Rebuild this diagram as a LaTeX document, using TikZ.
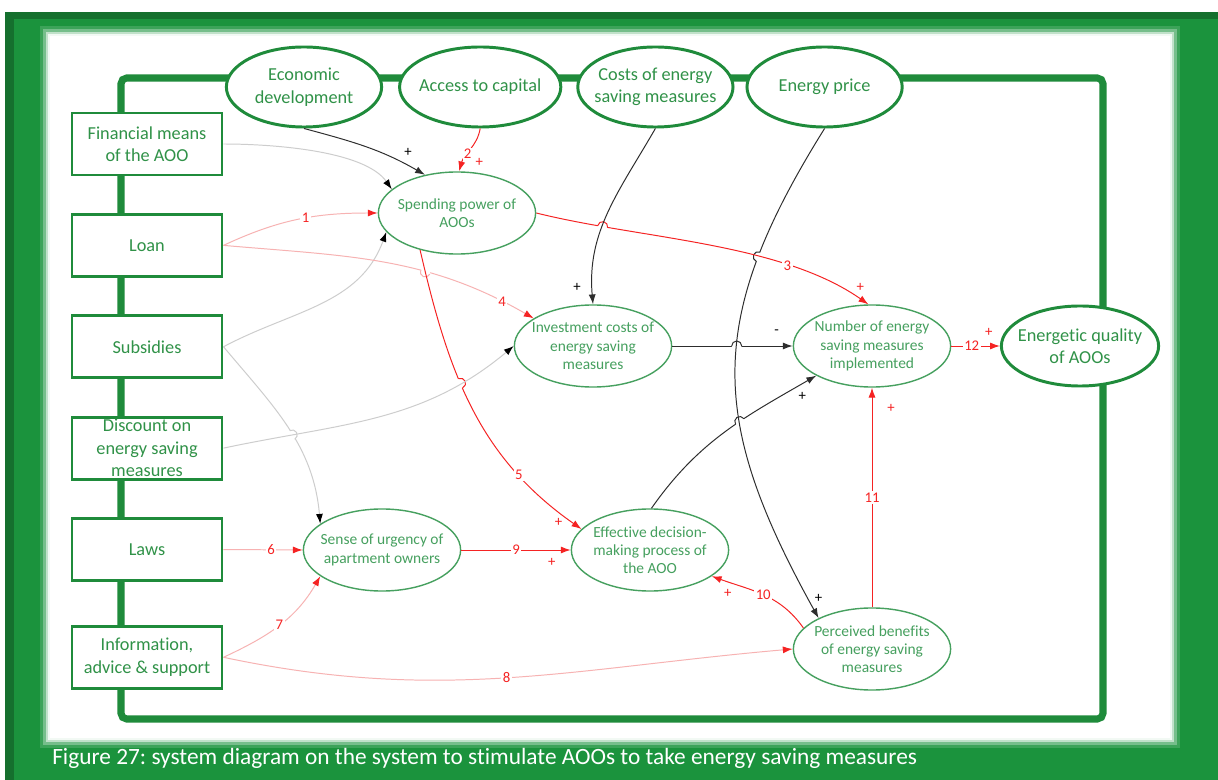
\documentclass[tikz,border=0pt]{standalone}
\usepackage{fontspec}
\setmainfont{Carlito}[Ligatures=NoCommon]
\usetikzlibrary{shapes.geometric,arrows.meta,positioning,calc,intersections}
\definecolor{framegreen}{RGB}{27,147,61}
\definecolor{framedark}{RGB}{21,112,46}
\definecolor{borderline}{RGB}{31,139,59}
\definecolor{boxtext}{RGB}{48,146,72}
\definecolor{vartext}{RGB}{70,160,95}
\definecolor{linkred}{RGB}{245,35,35}
\definecolor{linkpink}{RGB}{247,178,178}
\definecolor{linkgrey}{RGB}{205,205,205}
\definecolor{linkdark}{RGB}{45,45,45}
\pgfdeclarelayer{over1}
\pgfdeclarelayer{over2}
\pgfdeclarelayer{over3}
\pgfsetlayers{main,over1,over2,over3}
\newcommand{\hop}[4]{%
  \fill[white] (#1) circle (5);
  \draw[#4, line width=0.7pt, rotate around={#2:(#1)}] ($(#1)+(-5,0)$) arc (180:#3:5);}
\frenchspacing

\begin{document}
\begin{tikzpicture}[x=0.025cm, y=0.025cm, node distance=0.91cm, >={Latex[length=7pt,width=5pt]}]
  \tikzstyle{factorbox} = [rectangle, draw=borderline, line width=2.1pt, fill=white, text=boxtext, minimum width=3.75cm, minimum height=1.55cm, inner sep=1pt, align=center, font=\fontsize{13}{16}\selectfont]
  \tikzstyle{outerfactor} = [ellipse, draw=borderline, line width=2.1pt, fill=white, text=boxtext, minimum width=3.88cm, minimum height=2cm, inner xsep=-7pt, inner ysep=0pt, align=center, font=\fontsize{13}{16}\selectfont]
  \tikzstyle{varnode} = [ellipse, draw=vartext, line width=1pt, fill=white, text=vartext, minimum width=3.93cm, minimum height=2.05cm, inner xsep=-7pt, inner ysep=0pt, align=center, font=\fontsize{11}{13}\selectfont]
  \tikzstyle{numlabel} = [fill=white, inner sep=1pt, text=linkred, font=\fontsize{10.5}{12}\selectfont]
  \tikzstyle{signlabel} = [inner sep=0pt, font=\fontsize{10.5}{12}\selectfont]
  \tikzstyle{redlink} = [->, draw=linkred, line width=0.7pt]
  \tikzstyle{pinklink} = [-{Latex[length=7pt,width=5pt,color=linkred]}, draw=linkpink, line width=0.7pt]
  \tikzstyle{greylink} = [-{Latex[length=7pt,width=5pt,color=black]}, draw=linkgrey, line width=0.7pt]
  \tikzstyle{blacklink} = [->, draw=linkdark, line width=0.7pt]

  \useasboundingbox (0,0) rectangle (1218,-780);
  \fill[white] (0,0) rectangle (1218,-780);
  \fill[framedark] (5,-12) rectangle (1218,-780);
  \fill[framegreen] (14,-19) rectangle (1218,-780);
  \foreach \r/\o in {10/0.15,7/0.3,4/0.55,2/0.8,0/1}
    \fill[white, opacity=\o] (50-\r,-36+\r) rectangle (1170+\r,-738-\r);
  \draw[borderline, line width=5pt, rounded corners=4pt] (121,-78) rectangle (1103,-719);
  \node[anchor=base west, text=white, inner sep=0pt, font=\fontsize{16.6}{19}\selectfont] (caption) at (52,-764) {Figure 27: system diagram on the system to stimulate AOOs to take energy saving measures};

  \node[factorbox] (fin_means) at (147,-144) {Financial means\\of the AOO};
  \node[factorbox, below=of fin_means] (loan) {Loan};
  \node[factorbox, below=of loan] (subsidies) {Subsidies};
  \node[factorbox, below=of subsidies] (discount) {Discount on\\energy saving\\measures};
  \node[factorbox, below=of discount] (laws) {Laws};
  \node[factorbox, below=1.07cm of laws] (info) {Information,\\advice \& support};

  \node[outerfactor] (economy) at (304,-87) {Economic\\development};
  \node[outerfactor, minimum width=4.03cm, right=0.375cm of economy] (capital) {Access to capital};
  \node[outerfactor, right=0.35cm of capital] (costs) {Costs of energy\\saving measures};
  \node[outerfactor, right=0.275cm of costs] (price) {Energy price};
  \node[outerfactor, minimum width=3.93cm] (quality) at (1080,-346) {Energetic quality\\of AOOs};

  \node[varnode] (spend) at (457,-213) {Spending power of\\AOOs};
  \node[varnode] (invest) at (593,-346) {Investment costs of\\energy saving\\measures};
  \node[varnode] (number) at (872,-346) {Number of energy\\saving measures\\implemented};
  \node[varnode] (urgency) at (382,-550) {Sense of urgency of\\apartment owners};
  \node[varnode] (decision) at (650,-550) {Effective decision-\\making process of\\the AOO};
  \node[varnode] (benefits) at (872,-649) {Perceived benefits\\of energy saving\\measures};

  \draw[pinklink] (loan.east) to[out=25,in=180] node[numlabel, pos=0.55] {1} (spend.west);
  \draw[redlink] (capital.south) to[out=-100,in=75] node[numlabel, pos=0.6] {2} node[signlabel, text=linkred, pos=1, shift={(20,9)}] {+} (spend.87);
  \draw[blacklink] (economy.south) to[out=-15,in=150] node[signlabel, pos=1, shift={(-17,22)}] {+} (spend.130);
  \draw[greylink] (fin_means.east) to[out=0,in=125,looseness=0.7] (spend.160);
  \draw[greylink] (subsidies.east) to[out=28,in=-110] (spend.195);
  \draw[greylink, name path global=p_subsurg] (subsidies.east) to[out=-50,in=95] (urgency.157);
  \draw[pinklink, name path global=p_loan4] (loan.east) to[out=-5,in=150] node[numlabel, pos=0.9] {4} (invest.155);
  \draw[blacklink, name path global=p_invnum] (invest.east) -- node[signlabel, pos=1, shift={(-16,14)}] {-} (number.west);
  \draw[blacklink, name path global=p_decnum] (decision.88) to[out=55,in=-150] node[signlabel, pos=1, shift={(-14,-21)}] {+} (number.208);
  \draw[pinklink] (laws.east) -- node[numlabel, pos=0.6] {6} (urgency.west);
  \draw[pinklink] (info.east) to[out=25,in=-120] node[numlabel, pos=0.5] {7} (urgency.203);
  \draw[pinklink] (info.east) to[out=-12,in=185] node[numlabel, pos=0.5] {8} (benefits.west);
  \draw[redlink] (urgency.east) -- node[numlabel, pos=0.5] {9} node[signlabel, text=linkred, pos=1, shift={(-19,-12)}] {+} (decision.west);
  \draw[redlink] (benefits.163) to[out=125,in=-20] node[numlabel, pos=0.5] {10} node[signlabel, text=linkred, pos=1, shift={(16,-17)}] {+} (decision.-23);
  \draw[redlink] (benefits.north) -- node[numlabel, pos=0.5] {11} node[signlabel, text=linkred, pos=1, shift={(19,-21)}] {+} (number.south);
  \draw[redlink] (number.east) -- node[numlabel, pos=0.42] {12} node[signlabel, text=linkred, pos=1, shift={(-11,14)}] {+} (quality.west);

  \begin{pgfonlayer}{over1}
    \draw[blacklink, name path global=p_price] (price.south) to[out=-122,in=119,looseness=1.18] node[signlabel, pos=1, shift={(0,20)}] {+} (benefits.150);
    \draw[redlink, name path global=p_five] (spend.225) to[out=-77,in=145] node[numlabel, pos=0.76] {5} node[signlabel, text=linkred, pos=1, shift={(-23,7)}] {+} (decision.163);
  \end{pgfonlayer}
  \begin{pgfonlayer}{over2}
    \draw[redlink, name path global=p_three] (spend.east) to[out=-14,in=145,looseness=0.8] node[numlabel, pos=0.73] {3} node[signlabel, text=linkred, pos=1, shift={(-8,17)}] {+} (number.95);
    \draw[greylink, name path global=p_discount] (discount.east) to[out=12,in=-140] (invest.west);
  \end{pgfonlayer}
  \begin{pgfonlayer}{over3}
    \draw[blacklink, name path global=p_costs] (costs.south) to[out=-120,in=95] node[signlabel, pos=1, shift={(-16,17)}] {+} (invest.north);
  \end{pgfonlayer}

  \path[name intersections={of=p_invnum and p_price, by=j_a}];
  \hop{j_a}{0}{0}{linkdark}
  \path[name intersections={of=p_decnum and p_price, by=j_b}];
  \hop{j_b}{35}{0}{linkdark}
  \path[name intersections={of=p_loan4 and p_five, by=j_c}];
  \hop{j_c}{-25}{360}{linkpink}
  \path[name intersections={of=p_subsurg and p_discount, by=j_d}];
  \hop{j_d}{-60}{0}{linkgrey}
  \begin{pgfonlayer}{over1}
    \path[name intersections={of=p_price and p_three, by=j_e}];
    \hop{j_e}{-112}{360}{linkdark}
    \path[name intersections={of=p_five and p_discount, by=j_f}];
    \hop{j_f}{-65}{0}{linkred}
  \end{pgfonlayer}
  \begin{pgfonlayer}{over2}
    \path[name intersections={of=p_three and p_costs, by=j_g}];
    \hop{j_g}{-12}{0}{linkred}
  \end{pgfonlayer}
\end{tikzpicture}
\end{document}
